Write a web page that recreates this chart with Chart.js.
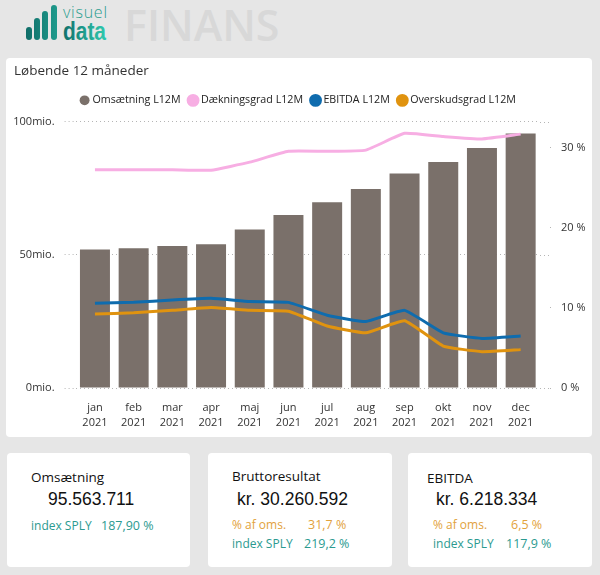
<!DOCTYPE html>
<html lang="da">
<head>
<meta charset="utf-8">
<title>Finans</title>
<script src="https://cdn.jsdelivr.net/npm/chart.js@4/dist/chart.umd.min.js"></script>
<style>
    html, body { margin: 0; padding: 0; }
    body { width: 600px; height: 575px; background: #e6e6e6; position: relative; overflow: hidden; font-family: "Open Sans", sans-serif; color: #222; }
    .card { position: absolute; background: #fff; border-radius: 4px; }
    .txt { position: absolute; white-space: nowrap; line-height: 1; transform: translateY(-50%); }
    .head { font-size: 13.5px; color: #111; }
    .big { font-family: "Liberation Sans", sans-serif; font-size: 17.5px; color: #111; }
    .small { font-size: 12.5px; }
    .lab { font-size: 12px; }
    .teal { color: #2b9a90; }
    .orange { color: #e2a23c; }
    #finans { position: absolute; left: 124px; top: 24px; font-size: 43px; font-weight: 600; color: #d8d8d8; line-height: 1; transform: translateY(-50%); }
    #chartCard { left: 6px; top: 58px; width: 586px; height: 379px; }
    #chartTitle { position: absolute; left: 8px; top: 13px; font-size: 13.5px; line-height: 1; transform: translateY(-50%); color: #333; }
    #chartBox { position: absolute; left: 0; top: 0; width: 586px; height: 379px; }
</style>
</head>
<body>

<svg width="120" height="50" style="position:absolute;left:0;top:0">
    <defs>
        <linearGradient id="logoGrad" x1="0" y1="0" x2="1" y2="0">
            <stop offset="0" stop-color="#10706c"/>
            <stop offset="1" stop-color="#2fcbb0"/>
        </linearGradient>
        <linearGradient id="barGrad" gradientUnits="userSpaceOnUse" x1="26" y1="0" x2="57" y2="0">
            <stop offset="0" stop-color="#0f6d68"/>
            <stop offset="1" stop-color="#1f9a8c"/>
        </linearGradient>
    </defs>
    <rect x="26" y="27" width="6" height="13" rx="3" fill="url(#barGrad)"/>
    <rect x="34" y="18" width="6" height="22" rx="3" fill="url(#barGrad)"/>
    <rect x="42" y="11" width="6" height="29" rx="3" fill="url(#barGrad)"/>
    <rect x="51" y="5" width="6" height="35" rx="3" fill="url(#barGrad)"/>
    <text x="63" y="18" font-family="Open Sans" font-weight="300" font-size="16" fill="#2a9d8f" textLength="44">visuel</text>
    <text x="63" y="40" font-family="Liberation Sans" font-weight="bold" font-size="25" fill="url(#logoGrad)" textLength="43" lengthAdjust="spacingAndGlyphs">data</text>
</svg>
<div id="finans">FINANS</div>

<div class="card" id="chartCard">
    <div id="chartBox"><canvas id="myChart"></canvas></div>
    <div id="chartTitle">Løbende 12 måneder</div>
</div>

<div class="card" style="left:7px;top:453px;width:183px;height:114px"></div>
<div class="card" style="left:208px;top:453px;width:184px;height:114px"></div>
<div class="card" style="left:408px;top:453px;width:184px;height:114px"></div>

<div class="txt head" style="left:31px;top:478px">Omsætning</div>
<div class="txt big" style="left:48px;top:500px">95.563.711</div>
<div class="txt lab teal" style="left:31px;top:526px">index SPLY</div>
<div class="txt small teal" style="left:101px;top:526px">187,90 %</div>

<div class="txt head" style="left:232px;top:477px">Bruttoresultat</div>
<div class="txt big" style="left:237px;top:500px">kr. 30.260.592</div>
<div class="txt lab orange" style="left:232px;top:525px">% af oms.</div>
<div class="txt small orange" style="left:308px;top:525px">31,7 %</div>
<div class="txt lab teal" style="left:232px;top:544px">index SPLY</div>
<div class="txt small teal" style="left:304px;top:544px">219,2 %</div>

<div class="txt head" style="left:427px;top:479px">EBITDA</div>
<div class="txt big" style="left:436px;top:500px">kr. 6.218.334</div>
<div class="txt lab orange" style="left:433px;top:525px">% af oms.</div>
<div class="txt small orange" style="left:511px;top:525px">6,5 %</div>
<div class="txt lab teal" style="left:433px;top:544px">index SPLY</div>
<div class="txt small teal" style="left:506px;top:544px">117,9 %</div>

<script>
const maaneder = ["jan", "feb", "mar", "apr", "maj", "jun", "jul", "aug", "sep", "okt", "nov", "dec"];
const aar = "2021";
const omsaetning = [52, 52.5, 53.3, 54, 59.5, 65, 69.8, 74.7, 80.6, 84.9, 90.1, 95.56];
const daekningsgrad = [27.25, 27.25, 27.25, 27.2, 28.2, 29.55, 29.55, 29.7, 31.8, 31.4, 31.1, 31.7];
const ebitda = [10.6, 10.7, 11, 11.2, 10.8, 10.7, 9.1, 8.3, 9.7, 6.9, 6.2, 6.5];
const overskudsgrad = [9.25, 9.4, 9.7, 10.05, 9.7, 9.6, 7.75, 6.9, 8.4, 5.25, 4.55, 4.8];

const grid = "#b5b5b5";
const tickFont = { family: "Open Sans", size: 11, lineHeight: 1.36 };

// gridlines stick out a bit to the right of the plot
const gridRight = {
    id: "gridRight",
    beforeInit(chart) {
        // a bit more air under the legend
        const fit = chart.legend.fit;
        chart.legend.fit = function () {
            fit.call(this);
            this.height += 6;
        };
    },
    beforeDatasetsDraw(chart) {
        const c = chart.ctx, y = chart.scales.y, right = chart.chartArea.right;
        c.save();
        c.strokeStyle = grid;
        c.setLineDash([1, 3]);
        y.ticks.forEach(t => {
            const py = Math.round(y.getPixelForValue(t.value)) + 0.5;
            c.beginPath();
            c.moveTo(right, py);
            c.lineTo(right + 11, py);
            c.stroke();
        });
        c.restore();
    }
};

const line = (label, data, color) => ({
    type: "line",
    label: label,
    data: data,
    yAxisID: "y1",
    borderColor: color,
    backgroundColor: color,
    borderWidth: 3,
    pointRadius: 0,
    tension: 0.12,
    order: 1
});

new Chart(document.getElementById("myChart"), {
    data: {
        labels: maaneder.map(m => [m, aar]),
        datasets: [
            {
                type: "bar",
                label: "Omsætning L12M",
                data: omsaetning,
                yAxisID: "y",
                backgroundColor: "#7a706a",
                barPercentage: 0.775,
                categoryPercentage: 1,
                order: 2
            },
            line("Dækningsgrad L12M", daekningsgrad, "#f7aee3"),
            line("EBITDA L12M", ebitda, "#0f6cae"),
            line("Overskudsgrad L12M", overskudsgrad, "#e0930f")
        ]
    },
    options: {
        responsive: true,
        maintainAspectRatio: false,
        animation: false,
        layout: { padding: { top: 27, bottom: 3 } },
        plugins: {
            tooltip: { enabled: false },
            legend: {
                position: "top",
                align: "center",
                labels: {
                    usePointStyle: true,
                    pointStyle: "circle",
                    boxHeight: 7,
                    boxWidth: 5,
                    padding: 10,
                    color: "#222",
                    font: { family: "Open Sans", size: 10.7 },
                    sort: (a, b) => a.datasetIndex - b.datasetIndex
                }
            }
        },
        scales: {
            x: {
                grid: { display: false },
                border: { display: false },
                ticks: { color: "#333", font: tickFont, maxRotation: 0, autoSkip: false, padding: 4 }
            },
            y: {
                position: "left",
                min: 0,
                max: 100,
                border: { display: false, dash: [1, 3] },
                afterFit: s => { s.width = 69.6 },
                grid: {
                    color: grid,
                    tickColor: grid,
                    tickBorderDash: [1, 3],
                    tickLength: 11
                },
                ticks: {
                    stepSize: 50,
                    padding: 10,
                    color: "#333",
                    font: tickFont,
                    callback: v => v + "mio."
                }
            },
            y1: {
                position: "right",
                min: 0,
                max: 33.25,
                border: { display: false },
                afterFit: s => { s.width = 52 },
                grid: {
                    drawOnChartArea: false,
                    tickColor: grid,
                    tickBorderDash: [0, 10, 1, 99],
                    tickLength: 11
                },
                ticks: {
                    stepSize: 10,
                    includeBounds: false,
                    padding: 10,
                    color: "#333",
                    font: tickFont,
                    callback: v => v + " %"
                }
            }
        }
    },
    plugins: [gridRight]
});
</script>
</body>
</html>
